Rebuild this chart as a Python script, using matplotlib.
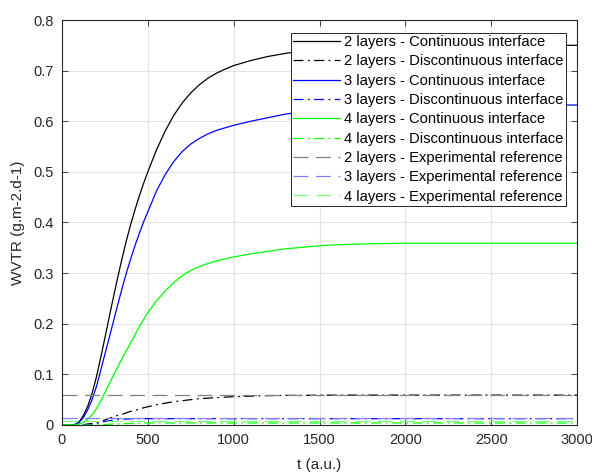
import matplotlib
matplotlib.use("Agg")
import matplotlib.pyplot as plt

plt.rcParams['font.family'] = ['Liberation Sans', 'DejaVu Sans']

# time axis (a.u.) for the simulated curves
t = [0, 25, 50, 75, 100, 125, 150, 175, 200, 225, 250, 275, 300, 325, 350, 375,
     400, 425, 450, 475, 500, 550, 600, 650, 700, 750, 800, 850, 900, 950, 1000,
     1100, 1200, 1300, 1400, 1500, 1600, 1800, 2000, 2500, 3000]

# continuous interface
cont_2 = [0, 0, 0, 0.001, 0.006, 0.019, 0.037, 0.062, 0.094, 0.132, 0.172, 0.213,
          0.253, 0.292, 0.329, 0.364, 0.396, 0.425, 0.452, 0.477, 0.50, 0.543, 0.580,
          0.611, 0.636, 0.656, 0.672, 0.685, 0.695, 0.703, 0.710, 0.720, 0.728, 0.734,
          0.739, 0.742, 0.745, 0.748, 0.749, 0.75, 0.75]
cont_3 = [0, 0, 0, 0.001, 0.005, 0.015, 0.030, 0.050, 0.075, 0.107, 0.140, 0.172,
          0.205, 0.238, 0.270, 0.300, 0.328, 0.354, 0.378, 0.401, 0.421, 0.462, 0.494,
          0.520, 0.540, 0.555, 0.566, 0.575, 0.582, 0.587, 0.592, 0.600, 0.607, 0.614,
          0.619, 0.623, 0.626, 0.629, 0.631, 0.632, 0.632]
cont_4 = [0, 0, 0, 0.0005, 0.002, 0.005, 0.011, 0.020, 0.032, 0.047, 0.064, 0.081,
          0.098, 0.115, 0.131, 0.147, 0.162, 0.178, 0.194, 0.208, 0.222, 0.245, 0.264,
          0.281, 0.295, 0.305, 0.313, 0.319, 0.324, 0.328, 0.332, 0.338, 0.343, 0.348,
          0.351, 0.354, 0.356, 0.358, 0.359, 0.359, 0.359]

# discontinuous interface
disc_2 = [0, 0, 0, 0, 0, 0.0005, 0.002, 0.003, 0.005, 0.007, 0.010, 0.013,
          0.016, 0.019, 0.021, 0.024, 0.027, 0.029, 0.031, 0.034, 0.036, 0.040, 0.043,
          0.046, 0.048, 0.050, 0.052, 0.053, 0.054, 0.055, 0.056, 0.057, 0.058, 0.0585,
          0.0585, 0.059, 0.059, 0.059, 0.059, 0.059, 0.059]
disc_3 = [0, 0, 0, 0, 0, 0, 0, 0.001, 0.003, 0.005, 0.007, 0.0085,
          0.0097, 0.0105, 0.0112, 0.0117, 0.012, 0.0123, 0.0123, 0.0124, 0.0125, 0.0125,
          0.0125, 0.0125, 0.0125, 0.0125, 0.0125, 0.0125, 0.0125, 0.0125, 0.0125, 0.0125,
          0.0125, 0.0125, 0.0125, 0.0125, 0.0125, 0.0125, 0.0125, 0.0125, 0.0125]
disc_4 = [0, 0, 0, 0, 0, 0, 0, 0, 0, 0.0005, 0.001, 0.0015,
          0.002, 0.0022, 0.0025, 0.0028, 0.003, 0.0032, 0.0035, 0.0037, 0.004, 0.004,
          0.004, 0.004, 0.004, 0.004, 0.004, 0.004, 0.004, 0.004, 0.004, 0.004,
          0.004, 0.004, 0.004, 0.004, 0.004, 0.004, 0.004, 0.004, 0.004]

# experimental reference values
exp_2 = 0.059
exp_3 = 0.0132
exp_4 = 0.0088

fig = plt.figure(figsize=(5.92, 4.73), dpi=100)
ax = fig.add_axes([0.1047, 0.1015, 0.8700, 0.8562])

lw = 0.9
dd = (8, 3.5, 1.5, 3.5)   # dash-dot pattern
da = (12, 6)              # dashed pattern
ax.plot(t, cont_2, color='k', lw=lw, label='2 layers - Continuous interface')
ax.plot(t, disc_2, color='k', lw=lw, dashes=dd, label='2 layers - Discontinuous interface')
ax.plot(t, cont_3, color='b', lw=lw, label='3 layers - Continuous interface')
ax.plot(t, disc_3, color='b', lw=lw, dashes=dd, label='3 layers - Discontinuous interface')
ax.plot(t, cont_4, color='#00ff00', lw=lw, label='4 layers - Continuous interface')
ax.plot(t, disc_4, color='#00ff00', lw=lw, dashes=dd, label='4 layers - Discontinuous interface')
ax.axhline(exp_2, color='#808080', lw=lw, dashes=da, label='2 layers - Experimental reference')
ax.axhline(exp_3, color='#7f7fff', lw=lw, dashes=da, label='3 layers - Experimental reference')
ax.axhline(exp_4, color='#7fff7f', lw=lw, dashes=da, label='4 layers - Experimental reference')

ax.set_xlim(0, 3000)
ax.set_ylim(0, 0.8)
ax.set_xticks(range(0, 3001, 500))
ax.set_yticks([0, 0.1, 0.2, 0.3, 0.4, 0.5, 0.6, 0.7, 0.8])
ax.set_yticklabels(['0', '0.1', '0.2', '0.3', '0.4', '0.5', '0.6', '0.7', '0.8'])
ax.grid(True, color='#e3e3e3', lw=0.8)
ax.set_axisbelow(True)

for s in ax.spines.values():
    s.set_color('#262626')
    s.set_linewidth(0.8)
ax.tick_params(direction='in', length=4, width=0.6, colors='#262626',
               labelsize=10.5, top=True, right=True, pad=6)

ax.set_xlabel('t (a.u.)', fontsize=11, color='#262626', labelpad=8)
ax.set_ylabel('WVTR (g.m-2.d-1)', fontsize=11, color='#262626', labelpad=6)

leg = ax.legend(loc='upper right', bbox_to_anchor=(0.979, 0.968), borderaxespad=0,
                fontsize=10.6, handlelength=3.2, handletextpad=0.3, labelspacing=0.36,
                borderpad=0.15, fancybox=False, framealpha=1, edgecolor='#262626')
leg.get_frame().set_linewidth(0.7)

fig.savefig('out.png', dpi=100)
